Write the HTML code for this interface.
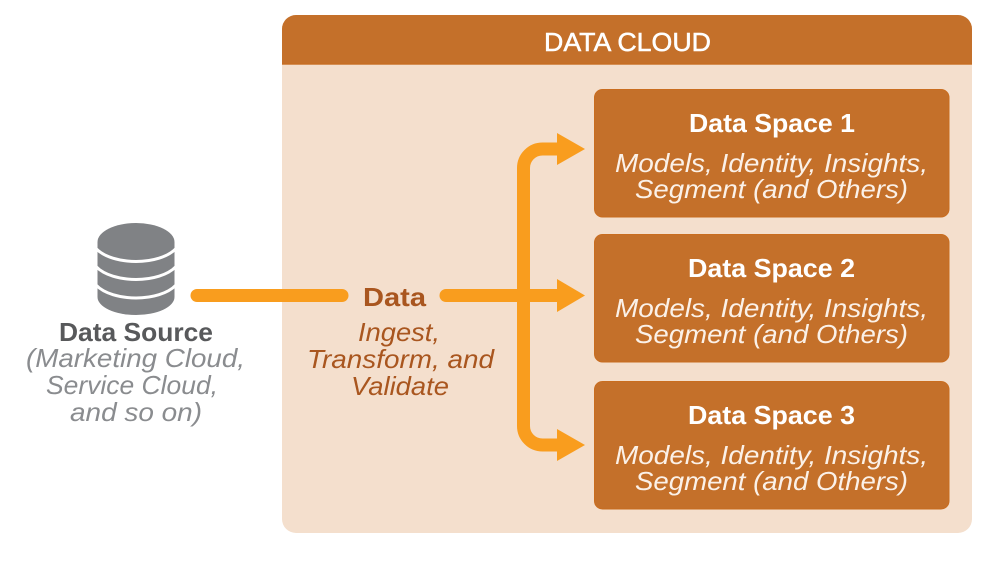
<!DOCTYPE html>
<html lang="en">
<head>
<meta charset="utf-8">
<title>Data Cloud diagram</title>
<style>
html,body{margin:0;padding:0;background:#fff;width:1000px;height:564px;overflow:hidden}
svg{display:block}
text{font-family:"Liberation Sans",sans-serif}
.b{font-weight:700}
.i{font-style:italic}
.w{fill:#fff}
.wi{fill:#fbf1e8}
.g{fill:#8a8c8f}
.r{fill:#a9561f}
</style>
</head>
<body>
<svg width="1000" height="564" viewBox="0 0 1000 564" xmlns="http://www.w3.org/2000/svg">
<rect width="1000" height="564" fill="#fff"/>
<rect x="282" y="15" width="690" height="518" rx="14" fill="#f4dfcd"/>
<path d="M282 64V29a14 14 0 0 1 14-14H958a14 14 0 0 1 14 14V64Z" fill="#c4702a"/>
<rect x="282" y="63.500" width="690" height="1.200" fill="#c76c1f"/>
<text class="w" x="544" y="51" font-size="26" stroke="#fff" stroke-width="0.500" textLength="167" lengthAdjust="spacingAndGlyphs">DATA CLOUD</text>

<g fill="#c4702a" stroke="#c96d1f" stroke-width="1">
<rect x="594.500" y="89.500" width="354.500" height="127.500" rx="8"/>
<rect x="594.500" y="234.500" width="354.500" height="127.500" rx="8"/>
<rect x="594.500" y="381.500" width="354.500" height="127.500" rx="8"/>
</g>

<text class="w b" x="689" y="132" font-size="26" textLength="166" lengthAdjust="spacingAndGlyphs">Data Space 1</text>
<text class="wi i" x="615" y="172" font-size="26" textLength="313" lengthAdjust="spacingAndGlyphs">Models, Identity, Insights,</text>
<text class="wi i" x="635" y="198" font-size="26" textLength="273" lengthAdjust="spacingAndGlyphs">Segment (and Others)</text>

<text class="w b" x="688" y="277" font-size="26" textLength="167" lengthAdjust="spacingAndGlyphs">Data Space 2</text>
<text class="wi i" x="615" y="317" font-size="26" textLength="313" lengthAdjust="spacingAndGlyphs">Models, Identity, Insights,</text>
<text class="wi i" x="635" y="343" font-size="26" textLength="273" lengthAdjust="spacingAndGlyphs">Segment (and Others)</text>

<text class="w b" x="688" y="424" font-size="26" textLength="167" lengthAdjust="spacingAndGlyphs">Data Space 3</text>
<text class="wi i" x="615" y="464" font-size="26" textLength="313" lengthAdjust="spacingAndGlyphs">Models, Identity, Insights,</text>
<text class="wi i" x="635" y="490" font-size="26" textLength="273" lengthAdjust="spacingAndGlyphs">Segment (and Others)</text>

<g fill="none" stroke="#f99d1e" stroke-width="13" stroke-linecap="round">
<path d="M197 295.500H342"/>
<path d="M446 295.500H560"/>
</g>
<g fill="none" stroke="#f99d1e" stroke-width="13">
<path d="M560 149H542.500a19 19 0 0 0-19 19V426a19 19 0 0 0 19 19H560"/>
</g>
<g fill="#f99d1e">
<polygon points="557,133 585,149 557,165"/>
<polygon points="557,279 585,295.500 557,312"/>
<polygon points="557,429 585,445 557,461"/>
</g>

<g>
<path d="M97.500 242a38.500 19 0 0 1 77 0V297a38.500 18 0 0 1-77 0Z" fill="#808285"/>
<g fill="none" stroke="#fff" stroke-width="3">
<path d="M96 248.500C104 257 120 261.500 136 261.500S168 257 176 248.500"/>
<path d="M96 266.500C104 275 120 279.500 136 279.500S168 275 176 266.500"/>
<path d="M96 285C104 293.500 120 298 136 298S168 293.500 176 285"/>
</g>
</g>

<text x="59" y="341" font-size="26" class="b" fill="#58595b" textLength="154" lengthAdjust="spacingAndGlyphs">Data Source</text>
<text class="g i" x="26" y="367" font-size="26" textLength="219" lengthAdjust="spacingAndGlyphs">(Marketing Cloud,</text>
<text class="g i" x="46" y="394" font-size="26" textLength="172" lengthAdjust="spacingAndGlyphs">Service Cloud,</text>
<text class="g i" x="70" y="421" font-size="26" textLength="132" lengthAdjust="spacingAndGlyphs">and so on)</text>

<text class="r b" x="363" y="306" font-size="26" textLength="63" lengthAdjust="spacingAndGlyphs">Data</text>
<text class="r i" x="358" y="341" font-size="26" textLength="82" lengthAdjust="spacingAndGlyphs">Ingest,</text>
<text class="r i" x="307" y="368" font-size="26" textLength="187" lengthAdjust="spacingAndGlyphs">Transform, and</text>
<text class="r i" x="351" y="395" font-size="26" textLength="98" lengthAdjust="spacingAndGlyphs">Validate</text>
</svg>
</body>
</html>
